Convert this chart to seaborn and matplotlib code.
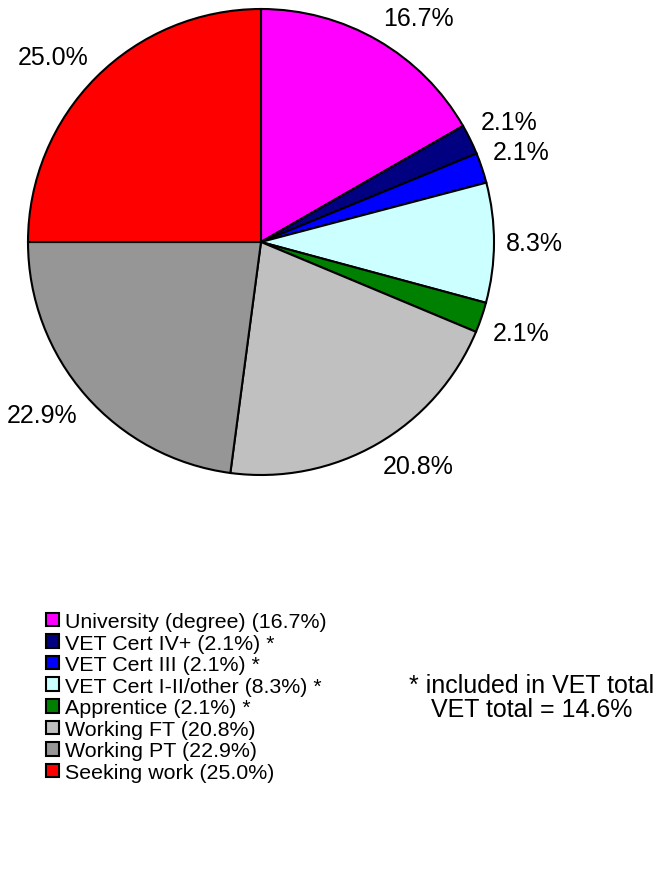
import matplotlib
matplotlib.use("Agg")
import matplotlib.pyplot as plt
from matplotlib.patches import Patch
import seaborn as sns

sns.set_theme(style="white")
plt.rcParams["font.family"] = ["Liberation Sans", "DejaVu Sans"]
plt.rcParams["text.color"] = "black"

# destinations of school leavers, percent of total
categories = [
    "University (degree)",
    "VET Cert IV+",
    "VET Cert III",
    "VET Cert I-II/other",
    "Apprentice",
    "Working FT",
    "Working PT",
    "Seeking work",
]
shares = [16.7, 2.1, 2.1, 8.3, 2.1, 20.8, 22.9, 25.0]
in_vet = [False, True, True, True, True, False, False, False]
vet_total = 14.6

colors = ["#FF00FF", "#000080", "#0000FF", "#CCFFFF",
          "#008000", "#C0C0C0", "#969696", "#FF0000"]

W, H = 662, 870
fig = plt.figure(figsize=(W / 100, H / 100), dpi=100)
ax = fig.add_axes([28 / W, 1 - 476 / H, 466 / W, 466 / H])

wedges, texts = ax.pie(
    shares,
    labels=[f"{v:.1f}%" for v in shares],
    colors=colors,
    startangle=90,
    counterclock=False,
    labeldistance=1.05,
    wedgeprops=dict(edgecolor="black", linewidth=1.5, clip_on=False),
    textprops=dict(fontsize=18, color="black"),
)
# excel-style label anchoring: keep the text box outside the rim
for t in texts:
    x, y = t.get_position()
    if y > 0.2:
        t.set_va("bottom")
    elif y < -0.2:
        t.set_va("top")
    else:
        t.set_va("center")
ax.set_xlim(-1, 1)
ax.set_ylim(-1, 1)
ax.set_aspect("equal")

handles = [Patch(facecolor=c, edgecolor="black", linewidth=1.5) for c in colors]
leg_labels = [f"{n} ({v:.1f}%)" + (" *" if star else "")
              for n, v, star in zip(categories, shares, in_vet)]
fig.legend(
    handles, leg_labels,
    loc="upper left",
    bbox_to_anchor=(46 / W, 1 - 613 / H),
    frameon=False,
    fontsize=15.4,
    handlelength=0.6,
    handleheight=0.6,
    handletextpad=0.3,
    labelspacing=0.12,
    borderpad=0,
    borderaxespad=0,
)

fig.text(532 / W, 1 - 698 / H,
         f"* included in VET total\nVET total = {vet_total:.1f}%",
         ha="center", va="center", fontsize=18, linespacing=1.0)

fig.savefig("out.png", dpi=100)
